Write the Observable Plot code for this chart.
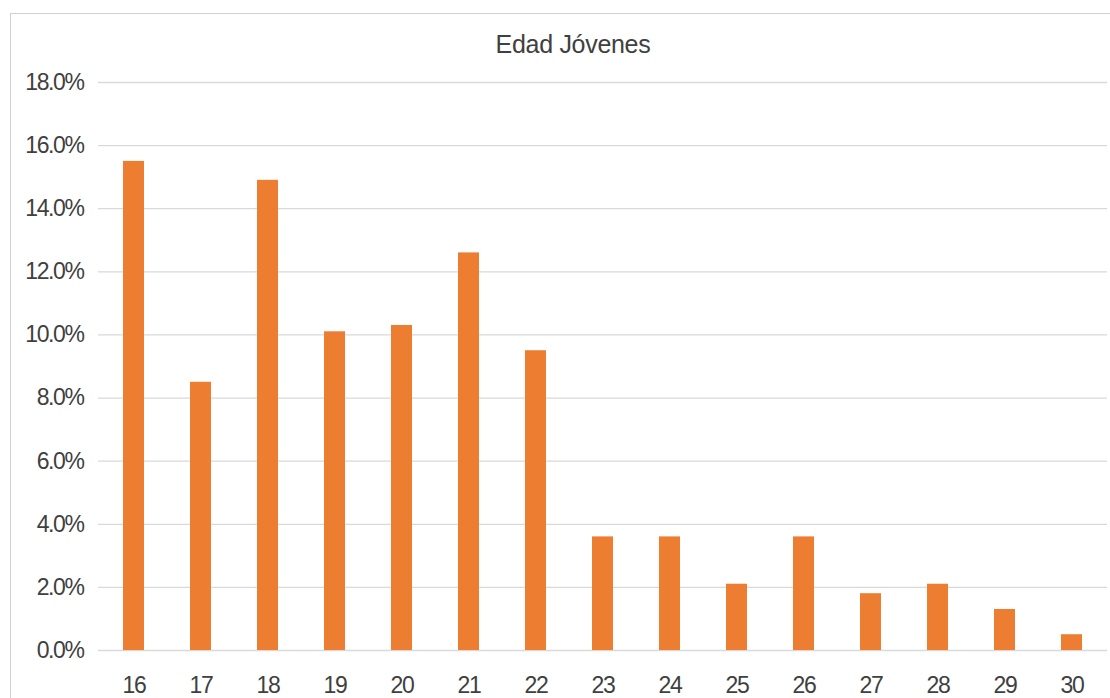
<!DOCTYPE html>
<html>
<head>
<meta charset="utf-8">
<script src="https://cdn.jsdelivr.net/npm/d3@7"></script>
<script src="https://cdn.jsdelivr.net/npm/@observablehq/plot@0.6"></script>
<style>
  html, body { margin: 0; padding: 0; background: #fff; }
  #wrap { position: relative; width: 1110px; height: 698px; overflow: hidden; font-family: "Liberation Sans", Arial, sans-serif; }
  #frame { position: absolute; left: 10px; top: 13px; width: 1110px; height: 700px; border-left: 1.5px solid #d0d0d0; border-top: 1.5px solid #d0d0d0; }
  #title { position: absolute; left: 273px; width: 600px; top: 32px; text-align: center; font-size: 25px; line-height: 25px; letter-spacing: -0.3px; color: #404040; }
  #chart { position: absolute; left: 0; top: 0; }
  #chart svg text { letter-spacing: -1.4px; }
</style>
</head>
<body>
<div id="wrap">
  <div id="frame"></div>
  <div id="chart"></div>
  <div id="title">Edad Jóvenes</div>
</div>
<script>
const ages = ["16","17","18","19","20","21","22","23","24","25","26","27","28","29","30"];
const shares = [0.155, 0.085, 0.149, 0.101, 0.103, 0.126, 0.095, 0.036, 0.036, 0.021, 0.036, 0.018, 0.021, 0.013, 0.005];
const yTicks = [0, 0.02, 0.04, 0.06, 0.08, 0.10, 0.12, 0.14, 0.16, 0.18];

const data = ages.map((a, i) => ({age: a, share: shares[i]}));

const chart = Plot.plot({
  width: 1110,
  height: 698,
  marginLeft: 98,
  marginRight: 3,
  marginTop: 82,
  marginBottom: 48,
  style: {fontFamily: '"Liberation Sans", Arial, sans-serif', fontSize: "23px", color: "#404040", background: "transparent"},
  x: {domain: ages, paddingInner: 0.69, paddingOuter: 0.345, label: null},
  y: {domain: [0, 0.18], label: null},
  marks: [
    Plot.ruleY(yTicks, {stroke: "#d9d9d9", strokeWidth: 1.3}),
    Plot.barY(data, {x: "age", y: "share", fill: "#ED7D31"}),
    Plot.axisY(yTicks, {tickSize: 0, tickPadding: 15, tickFormat: d => (d * 100).toFixed(1) + "%", fill: "#404040", fontSize: 23, label: null}),
    Plot.axisX({tickSize: 0, tickPadding: 26, fill: "#404040", fontSize: 23, label: null})
  ]
});
document.getElementById("chart").appendChild(chart);
</script>
</body>
</html>
